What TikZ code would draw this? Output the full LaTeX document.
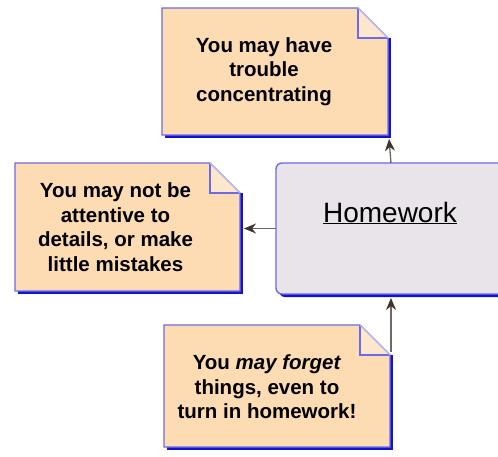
\documentclass[tikz,border=0pt]{standalone}
\usepackage{fontspec}
\setmainfont{Liberation Sans}
\usetikzlibrary{arrows.meta,calc}
\definecolor{peach}{HTML}{FDDCB4}
\definecolor{peachlt}{HTML}{FCE6CC}
\definecolor{bord}{HTML}{6B6BE6}
\definecolor{bordlt}{HTML}{B4B4F0}
\definecolor{shad}{HTML}{1212D2}
\definecolor{hwfill}{HTML}{E8E4EA}
\definecolor{arr}{HTML}{3E362E}
\definecolor{arrline}{HTML}{6E6868}
\tikzset{
  notebox/.style={inner sep=0pt, outer sep=0pt, anchor=north west},
  notetext/.style={font=\bfseries\fontsize{20.5}{24.5}\selectfont, align=center, inner sep=0pt},
  conn/.style={draw=arrline, line width=1.3pt, -{Stealth[length=12pt,width=10pt,color=arr,fill=arr]}}
}
\newcommand{\drawnote}[1]{%
  \fill[shad] ($(#1.north east)+(0pt,-30pt)$) rectangle ($(#1.south east)+(3pt,-3pt)$);
  \fill[shad] ($(#1.south west)+(3pt,0pt)$) rectangle ($(#1.south east)+(3pt,-3pt)$);
  \filldraw[fill=peach, draw=bord, line width=1.4pt]
    (#1.north west) -- ($(#1.north east)+(-30pt,0pt)$) -- ($(#1.north east)+(0pt,-30pt)$)
    -- (#1.south east) -- (#1.south west) -- cycle;
  \fill[peachlt] ($(#1.north east)+(-30pt,0pt)$) -- ($(#1.north east)+(-30pt,-30pt)$) -- ($(#1.north east)+(0pt,-30pt)$) -- cycle;
  \draw[bord, line width=1.4pt] ($(#1.north east)+(-30pt,0pt)$) -- ($(#1.north east)+(-30pt,-30pt)$) -- ($(#1.north east)+(0pt,-30pt)$);
  \draw[bordlt, line width=1.4pt] ($(#1.north east)+(-30pt,0pt)$) -- ($(#1.north east)+(0pt,-30pt)$);
}
\begin{document}
\begin{tikzpicture}[x=1pt,y=-1pt]
\useasboundingbox (0,0) rectangle (498,456);
\clip (0,0) rectangle (498,456);
\fill[white] (0,0) rectangle (498,456);
% notes
\node[notebox, minimum width=226pt, minimum height=127pt] (top) at (162,8) {};
\node[notebox, minimum width=225pt, minimum height=128pt] (left) at (15,163) {};
\node[notebox, minimum width=226pt, minimum height=122pt] (bot) at (164,325) {};
\drawnote{top}
\drawnote{left}
\drawnote{bot}
% homework box
\fill[shad, rounded corners=6pt] (279,166) rectangle (510,297);
\node[notebox, minimum width=234pt, minimum height=131pt, draw=bord, fill=hwfill, line width=1.4pt, rounded corners=6pt] (hw) at (276,163) {};
\node[font=\fontsize{28}{30}\selectfont, inner sep=0pt] (hwtext) at (390,213) {\underline{Homework}};
% texts
\node[notetext] (toptext) at ($(top.center)+(-11pt,0pt)$) {You may have\\trouble\\concentrating};
\node[notetext] (lefttext) at ($(left.center)+(-12pt,0pt)$) {You may not be\\attentive to\\details, or make\\little mistakes};
\node[notetext] (bottext) at ($(bot.center)+(-10pt,-1pt)$) {You \textit{may forget}\\things, even to\\turn in homework!};
% connectors
\coordinate (botstart) at ($(bot.north east)+(1pt,-27pt)$);
\draw[conn] (hw.north -| botstart) -- ($(top.south east |- top.south)+(1pt,-4pt)$);
\draw[conn] (hw.west) -- ($(left.east |- hw.west)+(4pt,0pt)$);
\draw[conn] (botstart) -- ($(hw.south -| botstart)+(0pt,-4pt)$);
\end{tikzpicture}
\end{document}
